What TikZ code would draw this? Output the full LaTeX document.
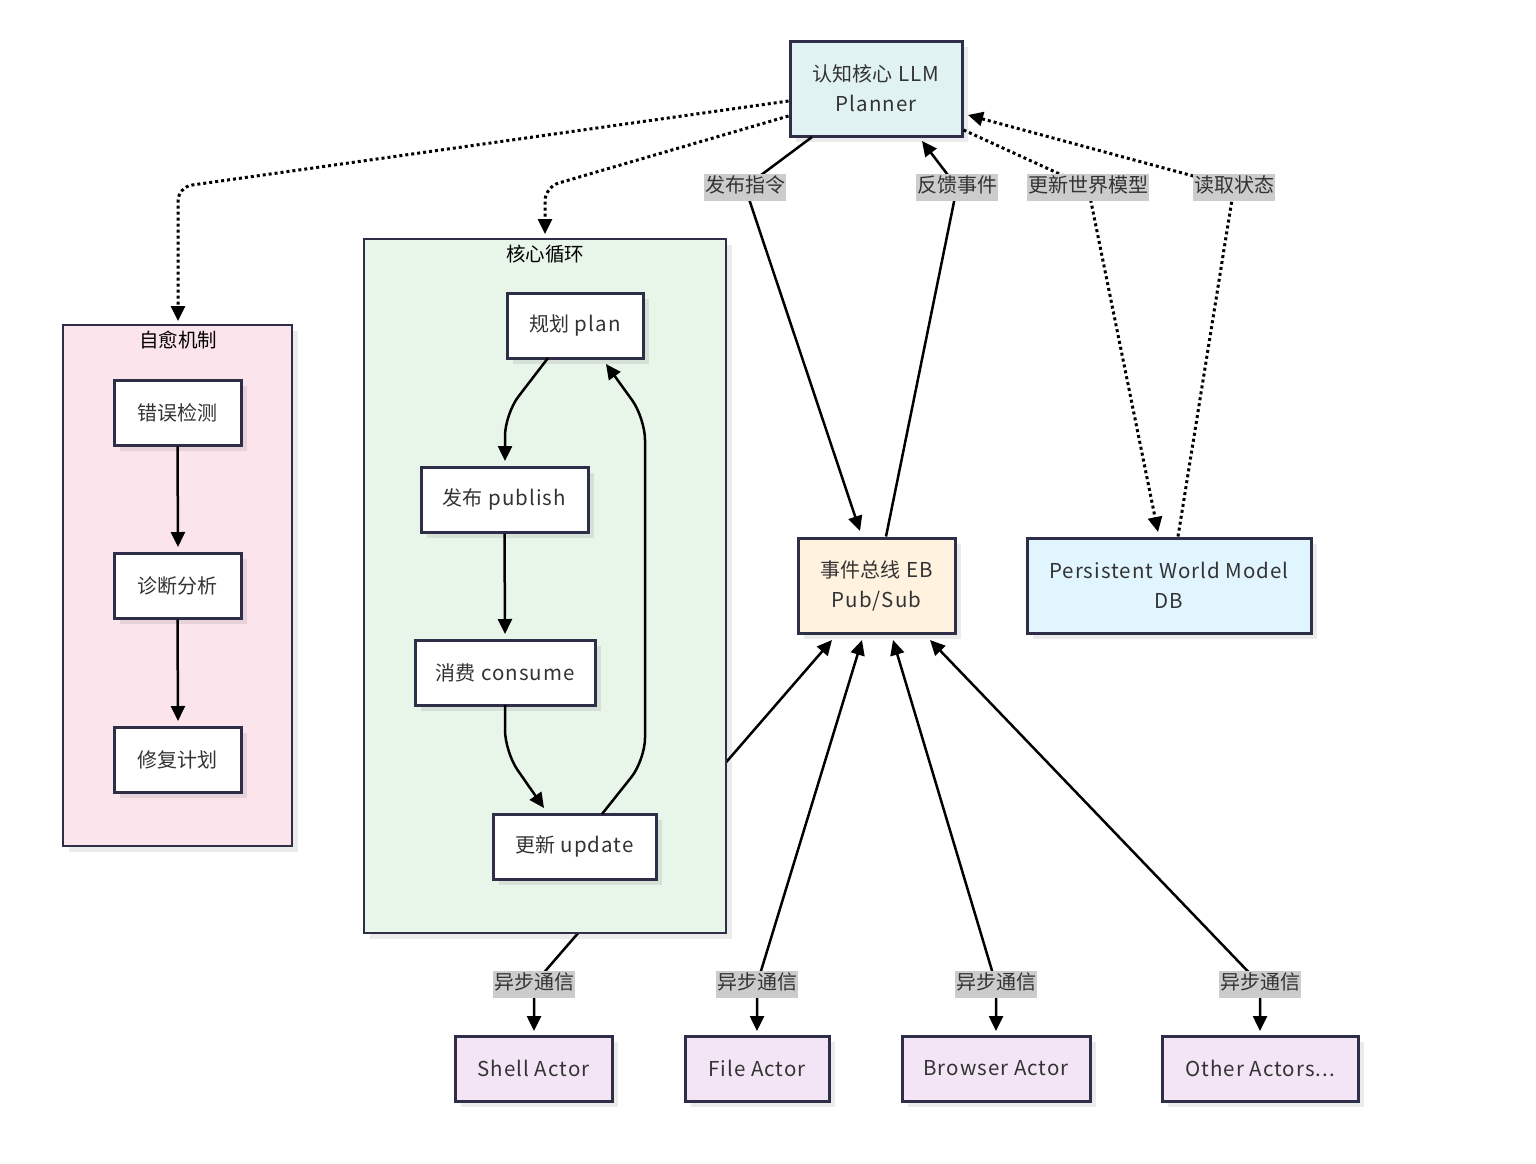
\documentclass[tikz,border=0pt]{standalone}
\usepackage{fontspec}
\setmainfont{Noto Sans CJK SC}[LetterSpace=5]
\newfontfamily\cjk{Noto Sans CJK SC}
\usetikzlibrary{arrows.meta,shadows,backgrounds}
\definecolor{bd}{HTML}{2E2E48}
\definecolor{tx}{HTML}{333333}
\definecolor{cllm}{HTML}{E0F2F1}
\definecolor{ceb}{HTML}{FFF3E0}
\definecolor{cpwm}{HTML}{E1F5FE}
\definecolor{cact}{HTML}{F3E5F5}
\definecolor{ccore}{HTML}{E8F5E9}
\definecolor{cheal}{HTML}{FCE4EC}
\definecolor{clab}{HTML}{CCCCCC}
\tikzset{
  box/.style={draw=bd, line width=3pt, text=tx, align=center,
    font=\fontsize{20.5}{30}\selectfont,
    drop shadow={shadow xshift=6pt, shadow yshift=-6pt, fill=black, opacity=0.08}},
  cluster/.style={draw=bd, line width=2.8pt,
    drop shadow={shadow xshift=6pt, shadow yshift=-6pt, fill=black, opacity=0.08}},
  ctitle/.style={text=black, font=\cjk\fontsize{19.5}{22}\selectfont},
  elabel/.style={fill=clab, text=tx, inner xsep=1pt, inner ysep=0pt, minimum height=27pt,
    text height=15pt, text depth=4pt, font=\cjk\fontsize{20}{24}\selectfont},
  solidedge/.style={line width=2.5pt, black, -{Triangle[length=15pt,width=14pt]}},
  dotedge/.style={line width=3pt, black, dash pattern=on 3pt off 3pt, -{Triangle[length=15pt,width=14pt]}},
  bothedge/.style={line width=2.5pt, black, {Triangle[length=15pt,width=14pt]}-{Triangle[length=15pt,width=14pt]}},
}
\newcommand{\zh}[1]{{\cjk\fontsize{20}{30}\selectfont #1}}
\begin{document}
\begin{tikzpicture}[x=1pt,y=-1pt]
\useasboundingbox (0,0) rectangle (1536,1163);
\begin{scope}[on background layer]
  \fill[white] (0,0) rectangle (1536,1163);
\end{scope}

% clusters
\draw[cluster, fill=cheal] (63,325) rectangle (292,846);
\node[ctitle] (healt) at (178,340) {自愈机制};
\draw[cluster, fill=ccore] (364,239) rectangle (726,933);
\node[ctitle] (coret) at (545,254) {核心循环};

% nodes
\node[box, fill=cllm, minimum width=172pt, minimum height=95pt] (llm) at (876,88.5) {\zh{认知核心} LLM\\Planner};
\node[box, fill=ceb, minimum width=157pt, minimum height=95pt] (eb) at (876.5,585.5) {\zh{事件总线} EB\\Pub/Sub};
\node[box, fill=cpwm, minimum width=284pt, minimum height=95pt] (pwm) at (1169,585.5) {Persistent World Model\\DB};

\node[box, fill=white, minimum width=136pt, minimum height=65pt] (plan) at (575,325.5) {\zh{规划} plan};
\node[box, fill=white, minimum width=167pt, minimum height=65pt] (publish) at (504.5,499.5) {\zh{发布} publish};
\node[box, fill=white, minimum width=180pt, minimum height=65pt] (consume) at (505,672.5) {\zh{消费} consume};
\node[box, fill=white, minimum width=163pt, minimum height=65pt] (update) at (574.5,846.5) {\zh{更新} update};

\node[box, fill=white, minimum width=127pt, minimum height=65pt, font=\cjk\fontsize{20}{30}\selectfont] (err) at (177.5,412.5) {错误检测};
\node[box, fill=white, minimum width=127pt, minimum height=65pt, font=\cjk\fontsize{20}{30}\selectfont] (diag) at (177.5,585.5) {诊断分析};
\node[box, fill=white, minimum width=127pt, minimum height=65pt, font=\cjk\fontsize{20}{30}\selectfont] (fix) at (177.5,759.5) {修复计划};

\node[box, fill=cact, minimum width=157pt, minimum height=65pt] (shell) at (533.5,1068.5) {Shell Actor};
\node[box, fill=cact, minimum width=144pt, minimum height=65pt] (file) at (757,1068.5) {File Actor};
\node[box, fill=cact, minimum width=188pt, minimum height=65pt] (browser) at (996,1068.5) {Browser Actor};
\node[box, fill=cact, minimum width=196pt, minimum height=65pt] (other) at (1260,1068.5) {Other Actors...};

% label coordinates
\coordinate (l1) at (745,187);
\coordinate (l2) at (957,187);
\coordinate (l3) at (1088,187);
\coordinate (l4) at (1234,187);
\coordinate (a1) at (534,984);
\coordinate (a2) at (757,984);
\coordinate (a3) at (996,984);
\coordinate (a4) at (1260,984);

% LLM to clusters
\draw[dotedge, rounded corners=14pt] (llm.west |- 0,101) -- (178,187) -- (178,321);
\draw[dotedge, rounded corners=14pt] (llm.west |- 0,116) -- (545,187) -- (545,234);

% LLM <-> EB / PWM
\draw[solidedge] (812,137) -- (l1) -- (860,531);
\draw[solidedge] (eb.north -| 886,0) -- (l2) -- (922,141);
\draw[dotedge] (llm.east |- 0,130) -- (l3) -- (1158,532);
\draw[dotedge] (pwm.north -| 1178,0) -- (l4) -- (968,115);

% core loop
\draw[solidedge, rounded corners=22pt] (548,358) -- (505,414) -- (505,461);
\draw[solidedge] (publish.south) -- (505,634);
\draw[solidedge, rounded corners=22pt] (505,705) -- (505,752) -- (544,808);
\draw[solidedge, rounded corners=22pt] (602,814) -- (645,760) -- (645,418) -- (606,364);

% self heal
\draw[solidedge] (err.south) -- (178,547);
\draw[solidedge] (diag.south) -- (178,721);

% EB <-> actors
\begin{scope}[on background layer]
  \draw[bothedge] (832,640) -- (a1) -- (534,1031);
\end{scope}
\draw[bothedge] (862,640) -- (a2) -- (757,1031);
\draw[bothedge] (893,640) -- (a3) -- (996,1031);
\draw[bothedge] (930,640) -- (a4) -- (1260,1031);

% labels
\node[elabel] (t1) at (l1) {发布指令};
\node[elabel] (t2) at (l2) {反馈事件};
\node[elabel] (t3) at (l3) {更新世界模型};
\node[elabel] (t4) at (l4) {读取状态};
\node[elabel] (s1) at (a1) {异步通信};
\node[elabel] (s2) at (a2) {异步通信};
\node[elabel] (s3) at (a3) {异步通信};
\node[elabel] (s4) at (a4) {异步通信};
\end{tikzpicture}
\end{document}
